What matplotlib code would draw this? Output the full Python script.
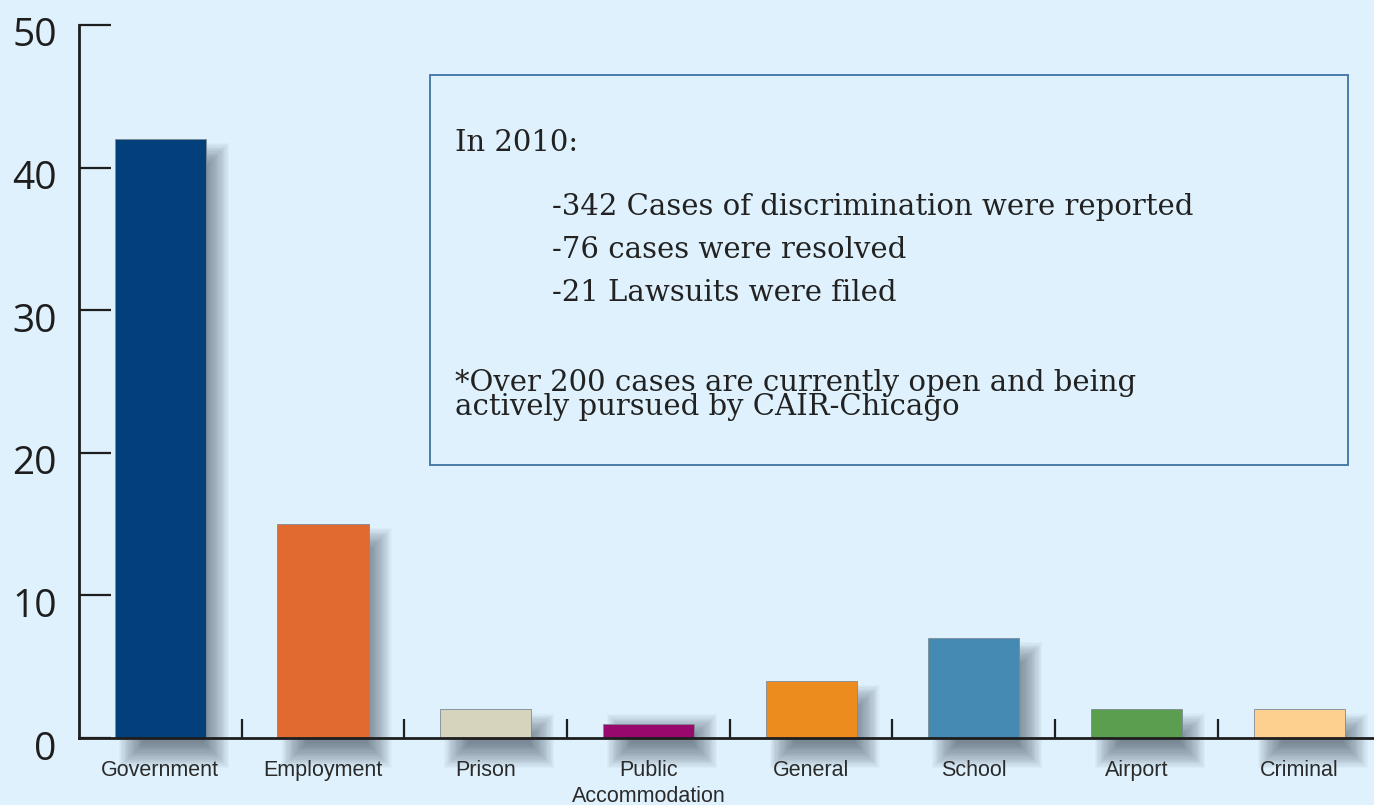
import numpy as np
import matplotlib.pyplot as plt
import matplotlib.transforms as mtransforms
from matplotlib.patches import Rectangle

# case counts by category (CAIR-Chicago, 2010)
categories = ['Government', 'Employment', 'Prison', 'Public\nAccommodation',
              'General', 'School', 'Airport', 'Criminal']
cases = [42, 15, 2, 1, 4, 7, 2, 2]
bar_colors = ['#033f7b', '#e06a2f', '#d6d4bd', '#98086d',
              '#ec8b1e', '#448ab3', '#5b9e50', '#fdd08f']
y_ticks = [0, 10, 20, 30, 40, 50]

note_head = 'In 2010:'
note_lines = ['-342 Cases of discrimination were reported',
              '-76 cases were resolved',
              '-21 Lawsuits were filed']
note_foot = '*Over 200 cases are currently open and being\nactively pursued by CAIR-Chicago'

bg = '#dff1fc'
W, H = 1374, 805
fig = plt.figure(figsize=(W / 100, H / 100), dpi=100, facecolor=bg)
ax = fig.add_axes([79 / W, (H - 738) / H, (W - 79) / W, 713 / H])
ax.set_facecolor(bg)

x = np.arange(len(cases))
width = 0.56
ax.set_xlim(-0.5, 7.46)
ax.set_ylim(0, 50)

# soft drop shadows behind the bars (stacked translucent layers)
px_x = 7.96 / (W - 79)
px_y = 50 / 713
h = np.array(cases, dtype=float)
blur = 26
n_layers = 22
core_left = x - width / 2 + (blur + 4) * px_x
core_right = x + width / 2 - 3 * px_x
core_bottom = -4 * px_y
core_top = np.maximum(h - (blur + 4) * px_y, core_bottom + 2 * px_y)
for k in range(n_layers):
    s = blur * (1 - k / n_layers)
    ax.bar(core_left - s * px_x, core_top - core_bottom + 2 * s * px_y,
           width=core_right - core_left + 2 * s * px_x, align='edge',
           bottom=core_bottom - s * px_y, color='#25333f', alpha=0.032,
           linewidth=0, zorder=1, clip_on=False)

ax.bar(x, cases, width=width, color=bar_colors, edgecolor='#7d8a94',
       linewidth=0.6, zorder=3)

for side in ['top', 'right']:
    ax.spines[side].set_visible(False)
for side in ['left', 'bottom']:
    ax.spines[side].set_linewidth(2)
    ax.spines[side].set_color('#1e1e1e')
    ax.spines[side].set_zorder(4)

ax.set_yticks(y_ticks)
ax.tick_params(axis='y', direction='in', length=23, width=1.6, color='#1e1e1e',
               pad=16, labelsize=28, labelcolor='#1e1e1e')
# numbers sit a little below their ticks in the original
shift = mtransforms.ScaledTranslation(0, -7 / 100, fig.dpi_scale_trans)
for lab in ax.get_yticklabels():
    lab.set_family('Open Sans')
    lab.set_transform(lab.get_transform() + shift)

ax.set_xticks(x)
ax.set_xticklabels(categories, family='Liberation Sans', fontsize=15.5,
                   color='#2a2a2a', linespacing=1.3, va='top')
ax.tick_params(axis='x', which='major', length=0, pad=16)
ax.set_xticks(x[:-1] + 0.5, minor=True)
ax.tick_params(axis='x', which='minor', direction='in', length=14, width=1.6,
               color='#1e1e1e')

# note box
fig.add_artist(Rectangle((430 / W, (H - 465) / H), 918 / W, 390 / H,
                         transform=fig.transFigure, facecolor='none',
                         edgecolor='#3f72a4', linewidth=1.3))
serif = 'DejaVu Serif'
fig.text(455 / W, 1 - 143 / H, note_head, family=serif, fontsize=21,
         color='#222222', va='center')
for i, line in enumerate(note_lines):
    fig.text(552 / W, 1 - (207 + 43 * i) / H, line, family=serif, fontsize=21,
             color='#222222', va='center')
fig.text(455 / W, 1 - 395 / H, note_foot, family=serif, fontsize=21,
         color='#222222', va='center', linespacing=0.85)

fig.savefig('out.png', dpi=100, facecolor=bg)
